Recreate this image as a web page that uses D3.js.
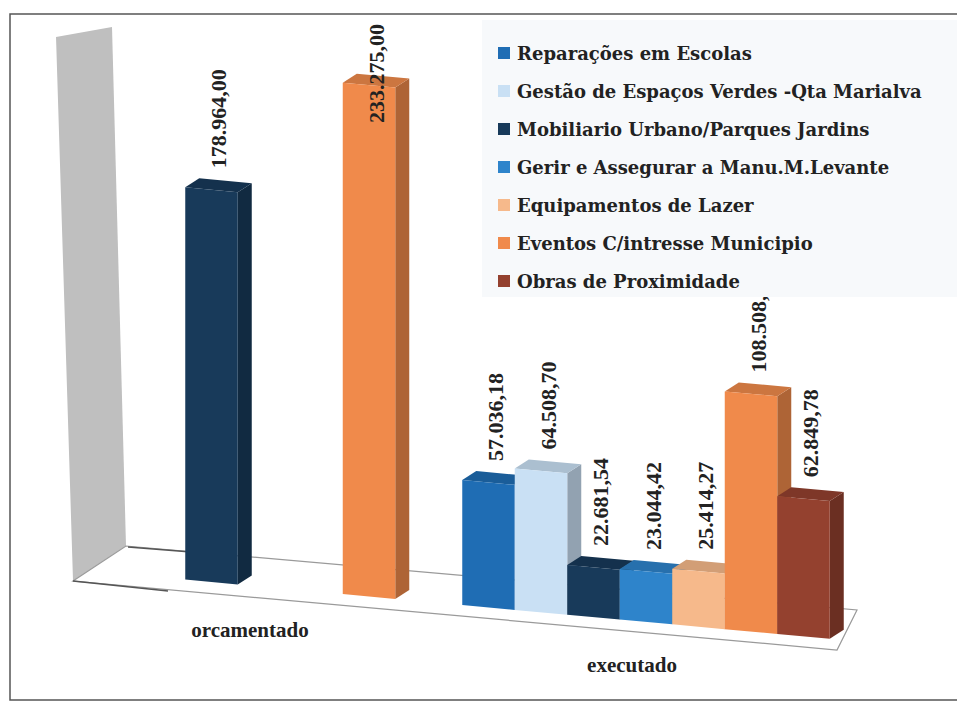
<!DOCTYPE html>
<html><head><meta charset="utf-8">
<script src="https://cdn.jsdelivr.net/npm/d3@7"></script>
<style>body{margin:0;background:#fff}</style></head>
<body><svg id="c" width="957" height="705"></svg>
<script>
const categories = ["orcamentado", "executado"];
const seriesNames = [
  "Reparações em Escolas",
  "Gestão de Espaços Verdes -Qta Marialva",
  "Mobiliario Urbano/Parques Jardins",
  "Gerir e Assegurar a Manu.M.Levante",
  "Equipamentos de Lazer",
  "Eventos C/intresse Municipio",
  "Obras de Proximidade"
];
const orcamentado = [null, null, 178964.00, null, null, 233275.00, null];
const executado = [57036.18, 64508.70, 22681.54, 23044.42, 25414.27, 108508.00, 62849.78];
const seriesColors = ["#1f6db4", "#c9e0f4", "#183a5a", "#2e84cb", "#f6b98b", "#f08a4b", "#94412f"];
const valuesByCategory = {orcamentado, executado};

const svg = d3.select("#c");
const fmt = d3.formatLocale({decimal: ",", thousands: ".", grouping: [3], currency: ["", "€"]}).format(",.2f");

// frame
svg.append("rect").attr("x", 10).attr("y", 14).attr("width", 960).attr("height", 686)
  .attr("fill", "#fff").attr("stroke", "#555").attr("stroke-width", 1.5);

// perspective layout
const slot = 52.5;
const x0 = d3.scalePoint().domain(categories).range([264, 646]);
const x1 = d3.scaleBand().domain(d3.range(seriesNames.length)).range([-slot * 3.5, slot * 3.5]);
const h = d3.scaleLinear().domain([0, 240000]).range([0, 526]);
const floorY = x => 580 + 0.092 * (x - 190);
const dx = 14, dy = -9;

// side wall
svg.append("polygon")
  .attr("points", [[56, 37], [112, 27], [126, 546], [73, 581]].join(" "))
  .attr("fill", "#bfbfbf");
// floor
svg.append("polygon")
  .attr("points", [[73, 581], [126, 546], [857, 610], [837, 650]].join(" "))
  .attr("fill", "#fff").attr("stroke", "#9a9a9a").attr("stroke-width", 1.2);
svg.append("line").attr("x1", 73).attr("y1", 581).attr("x2", 168).attr("y2", 591)
  .attr("stroke", "#555").attr("stroke-width", 1.5);
svg.append("line").attr("x1", 128).attr("y1", 547).attr("x2", 191).attr("y2", 552)
  .attr("stroke", "#555").attr("stroke-width", 1.5);

// bars
const bars = [];
categories.forEach(cat => {
  valuesByCategory[cat].forEach((v, i) => {
    if (v == null) return;
    const xl = x0(cat) + x1(i), xr = xl + x1.bandwidth();
    bars.push({cat, i, v, xl, xr, yl: floorY(xl), yr: floorY(xr), hh: h(v)});
  });
});
const gBars = svg.append("g");
bars.forEach(b => {
  const c = d3.color(seriesColors[b.i]);
  const g = gBars.append("g");
  g.append("polygon")
    .attr("points", [[b.xr, b.yr - b.hh], [b.xr + dx, b.yr - b.hh + dy], [b.xr + dx, b.yr + dy], [b.xr, b.yr]].join(" "))
    .attr("fill", c.darker(0.9));
  g.append("polygon")
    .attr("points", [[b.xl, b.yl - b.hh], [b.xr, b.yr - b.hh], [b.xr + dx, b.yr - b.hh + dy], [b.xl + dx, b.yl - b.hh + dy]].join(" "))
    .attr("fill", c.darker(0.45));
  g.append("polygon")
    .attr("points", [[b.xl, b.yl - b.hh], [b.xr, b.yr - b.hh], [b.xr, b.yr], [b.xl, b.yl]].join(" "))
    .attr("fill", c);
});

// value labels
const gLab = svg.append("g");
bars.forEach(b => {
  const x = (b.xl + b.xr) / 2 + dx / 2;
  const t = gLab.append("text")
    .attr("font-family", "Liberation Serif").attr("font-weight", "bold").attr("font-size", 22)
    .attr("fill", "#222").attr("dominant-baseline", "central")
    .text(fmt(b.v));
  const len = t.node().getComputedTextLength();
  let y = Math.min(b.yl, b.yr) - b.hh + dy - 10;
  if (y - len < 24) y = 24 + len;
  t.attr("transform", `translate(${x},${y}) rotate(-90)`);
});

// category labels
svg.append("g").selectAll("text").data(categories).join("text")
  .attr("x", d => x0(d) - 14).attr("y", d => floorY(x0(d)) + 50)
  .attr("text-anchor", "middle")
  .attr("font-family", "Liberation Serif").attr("font-weight", "bold").attr("font-size", 21)
  .attr("fill", "#222").text(d => d);

// legend
const lg = svg.append("g");
lg.append("rect").attr("x", 482).attr("y", 20).attr("width", 480).attr("height", 277).attr("fill", "#f7f9fb");
const items = lg.selectAll("g.it").data(seriesNames).join("g").attr("class", "it")
  .attr("transform", (d, i) => `translate(498,${53 + 38 * i})`);
items.append("rect").attr("x", 0).attr("y", -6).attr("width", 12).attr("height", 12)
  .attr("fill", (d, i) => seriesColors[i]);
items.append("text").attr("x", 19).attr("y", 0).attr("dominant-baseline", "central")
  .attr("font-family", "DejaVu Serif").attr("font-weight", "bold").attr("font-size", 18)
  .attr("fill", "#222").text(d => d);
</script></body></html>
